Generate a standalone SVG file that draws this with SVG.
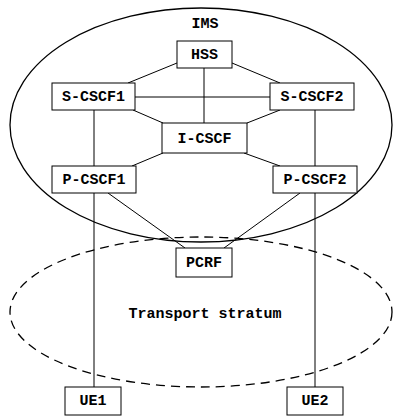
<svg xmlns="http://www.w3.org/2000/svg" width="394" height="419" viewBox="0 0 394 419">
<style>
.box{fill:#fff;stroke:#000;stroke-width:1}
.t{font-family:"Liberation Mono","Courier New",monospace;font-weight:bold;font-size:15px;text-anchor:middle;fill:#000}
.c{stroke:#000;stroke-width:1;fill:none}
</style>
<rect width="394" height="419" fill="#fff"/>
<g id="ims">
<ellipse cx="201" cy="125" rx="191" ry="117" fill="none" stroke="#000" stroke-width="1.3"/>
<text class="t" x="205" y="28">IMS</text>
</g>
<g id="transport">
<ellipse cx="201" cy="312" rx="191" ry="75" fill="none" stroke="#000" stroke-width="1.3" stroke-dasharray="9,6"/>
<text class="t" x="205" y="318">Transport stratum</text>
</g>
<g id="connectors">
<line class="c" x1="177" y1="63" x2="128" y2="83"/>
<line class="c" x1="232" y1="63" x2="280" y2="83"/>
<line class="c" x1="204" y1="68" x2="204" y2="123"/>
<line class="c" x1="135" y1="97" x2="270" y2="97"/>
<line class="c" x1="133" y1="110" x2="163" y2="123"/>
<line class="c" x1="280" y1="110" x2="247" y2="123"/>
<line class="c" x1="94" y1="110" x2="94" y2="387"/>
<line class="c" x1="315" y1="110" x2="315" y2="387"/>
<line class="c" x1="163" y1="153" x2="132" y2="166"/>
<line class="c" x1="244" y1="153" x2="280" y2="166"/>
<line class="c" x1="108" y1="193" x2="185" y2="248"/>
<line class="c" x1="300" y1="193" x2="224" y2="248"/>
</g>
<g id="hss"><rect class="box" x="177" y="41" width="55" height="27"/><text class="t" x="204.5" y="59">HSS</text></g>
<g id="scscf1"><rect class="box" x="52" y="83" width="83" height="27"/><text class="t" x="93.5" y="101">S-CSCF1</text></g>
<g id="scscf2"><rect class="box" x="270" y="83" width="84" height="27"/><text class="t" x="312" y="101">S-CSCF2</text></g>
<g id="icscf"><rect class="box" x="162" y="123" width="85" height="30"/><text class="t" x="204.5" y="143">I-CSCF</text></g>
<g id="pcscf1"><rect class="box" x="52" y="166" width="84" height="27"/><text class="t" x="94" y="184">P-CSCF1</text></g>
<g id="pcscf2"><rect class="box" x="273" y="166" width="84" height="27"/><text class="t" x="315" y="184">P-CSCF2</text></g>
<g id="pcrf"><rect class="box" x="176" y="248" width="56" height="29"/><text class="t" x="204" y="267">PCRF</text></g>
<g id="ue1"><rect class="box" x="65" y="387" width="56" height="28"/><text class="t" x="93" y="405">UE1</text></g>
<g id="ue2"><rect class="box" x="287" y="387" width="56" height="28"/><text class="t" x="315" y="405">UE2</text></g>
</svg>
